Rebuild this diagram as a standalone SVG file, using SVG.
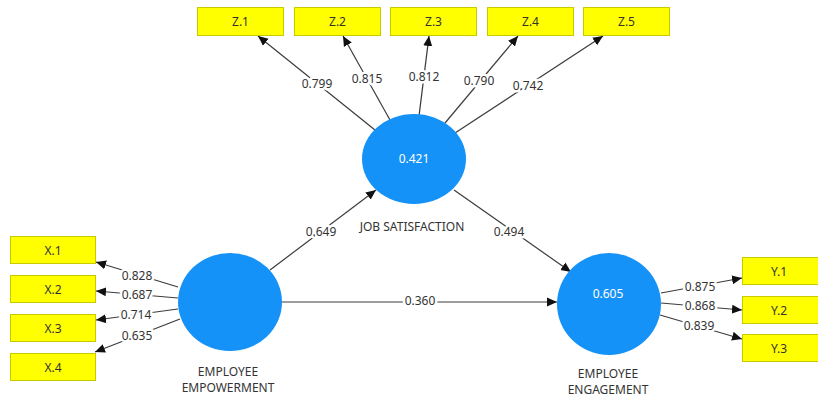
<svg xmlns="http://www.w3.org/2000/svg" width="818" height="398" viewBox="0 0 818 398">
  <style>
    .ind rect { fill: #ffff00; stroke: #c9c900; stroke-width: 1; }
    .ind text { font-family: "Noto Sans", "Liberation Sans", sans-serif; font-size: 12px; fill: #333333; text-anchor: middle; }
    .lat ellipse { fill: #1592f7; }
    .lat text.val { font-family: "Noto Sans", "Liberation Sans", sans-serif; font-size: 12px; fill: #ffffff; text-anchor: middle; }
    .lat text.name { font-family: "Noto Sans", "Liberation Sans", sans-serif; font-size: 12px; fill: #333333; text-anchor: middle; }
    .edge line { stroke: #3c3c3c; stroke-width: 1.2; marker-end: url(#arr); }
    .lbl text { font-family: "Noto Sans", "Liberation Sans", sans-serif; font-size: 12px; fill: #333333; text-anchor: middle; stroke: #ffffff; stroke-width: 5px; paint-order: stroke; stroke-linejoin: round; }
  </style>
  <defs>
    <marker id="arr" viewBox="0 0 10 10" refX="10" refY="5" markerWidth="10" markerHeight="10" markerUnits="userSpaceOnUse" orient="auto">
      <path d="M0,0.5 L10,5 L0,9.5 z" fill="#111111"/>
    </marker>
  </defs>

  <rect width="818" height="398" fill="#ffffff"/>

  <!-- connectors -->
  <g id="connectors" class="edge">
    <!-- outer loadings: job satisfaction -->
    <line x1="375" y1="130" x2="258" y2="36"/>
    <line x1="390" y1="120" x2="343" y2="36"/>
    <line x1="419" y1="116" x2="429" y2="36"/>
    <line x1="445" y1="123" x2="518" y2="36"/>
    <line x1="455" y1="133" x2="603" y2="36"/>
    <!-- outer loadings: employee empowerment -->
    <line x1="178" y1="287" x2="96" y2="262"/>
    <line x1="178" y1="298" x2="96" y2="291"/>
    <line x1="178" y1="309" x2="96" y2="320"/>
    <line x1="180" y1="319" x2="95" y2="352"/>
    <!-- outer loadings: employee engagement -->
    <line x1="661" y1="293" x2="742" y2="278"/>
    <line x1="661" y1="303" x2="742" y2="310"/>
    <line x1="660" y1="315" x2="742" y2="339"/>
    <!-- structural paths -->
    <line x1="270" y1="270" x2="376" y2="190"/>
    <line x1="454" y1="190" x2="571" y2="272"/>
    <line x1="282" y1="302" x2="557" y2="302"/>
  </g>

  <!-- path coefficients and loadings -->
  <g id="labels" class="lbl">
    <text x="317" y="88">0.799</text>
    <text x="367" y="83">0.815</text>
    <text x="424" y="81">0.812</text>
    <text x="479" y="85">0.790</text>
    <text x="528" y="90">0.742</text>
    <text x="137" y="280">0.828</text>
    <text x="137" y="299">0.687</text>
    <text x="136" y="319">0.714</text>
    <text x="137" y="340">0.635</text>
    <text x="700" y="291">0.875</text>
    <text x="700" y="310">0.868</text>
    <text x="699" y="330">0.839</text>
    <text x="321" y="236">0.649</text>
    <text x="509" y="236">0.494</text>
    <text x="420" y="305">0.360</text>
  </g>

  <!-- latent variables -->
  <g id="job-satisfaction" class="lat">
    <ellipse cx="414" cy="159" rx="52" ry="45"/>
    <text class="val" x="414" y="163">0.421</text>
    <text class="name" x="412" y="231">JOB SATISFACTION</text>
  </g>
  <g id="employee-empowerment" class="lat">
    <ellipse cx="230" cy="302" rx="52" ry="49"/>
    <text class="name" x="228" y="376">EMPLOYEE</text>
    <text class="name" x="228" y="392">EMPOWERMENT</text>
  </g>
  <g id="employee-engagement" class="lat">
    <ellipse cx="609" cy="304" rx="52" ry="51"/>
    <text class="val" x="608" y="298">0.605</text>
    <text class="name" x="608" y="378">EMPLOYEE</text>
    <text class="name" x="608" y="394">ENGAGEMENT</text>
  </g>

  <!-- indicators -->
  <g id="z1" class="ind"><rect x="197.5" y="7.5" width="86" height="28"/><text x="240.5" y="26">Z.1</text></g>
  <g id="z2" class="ind"><rect x="294.5" y="7.5" width="86" height="28"/><text x="337.5" y="26">Z.2</text></g>
  <g id="z3" class="ind"><rect x="390.5" y="7.5" width="86" height="28"/><text x="433.5" y="26">Z.3</text></g>
  <g id="z4" class="ind"><rect x="487.5" y="7.5" width="86" height="28"/><text x="530.5" y="26">Z.4</text></g>
  <g id="z5" class="ind"><rect x="583.5" y="7.5" width="86" height="28"/><text x="626.5" y="26">Z.5</text></g>

  <g id="x1" class="ind"><rect x="10.5" y="236.5" width="85" height="27"/><text x="53" y="254.5">X.1</text></g>
  <g id="x2" class="ind"><rect x="10.5" y="275.5" width="85" height="27"/><text x="53" y="293.5">X.2</text></g>
  <g id="x3" class="ind"><rect x="10.5" y="314.5" width="85" height="27"/><text x="53" y="332.5">X.3</text></g>
  <g id="x4" class="ind"><rect x="10.5" y="353.5" width="85" height="27"/><text x="53" y="371.5">X.4</text></g>

  <g id="y1" class="ind"><rect x="742.5" y="257.5" width="77" height="27"/><text x="779" y="275.5">Y.1</text></g>
  <g id="y2" class="ind"><rect x="742.5" y="296.5" width="77" height="27"/><text x="779" y="314.5">Y.2</text></g>
  <g id="y3" class="ind"><rect x="742.5" y="334.5" width="77" height="27"/><text x="779" y="352.5">Y.3</text></g>
</svg>
